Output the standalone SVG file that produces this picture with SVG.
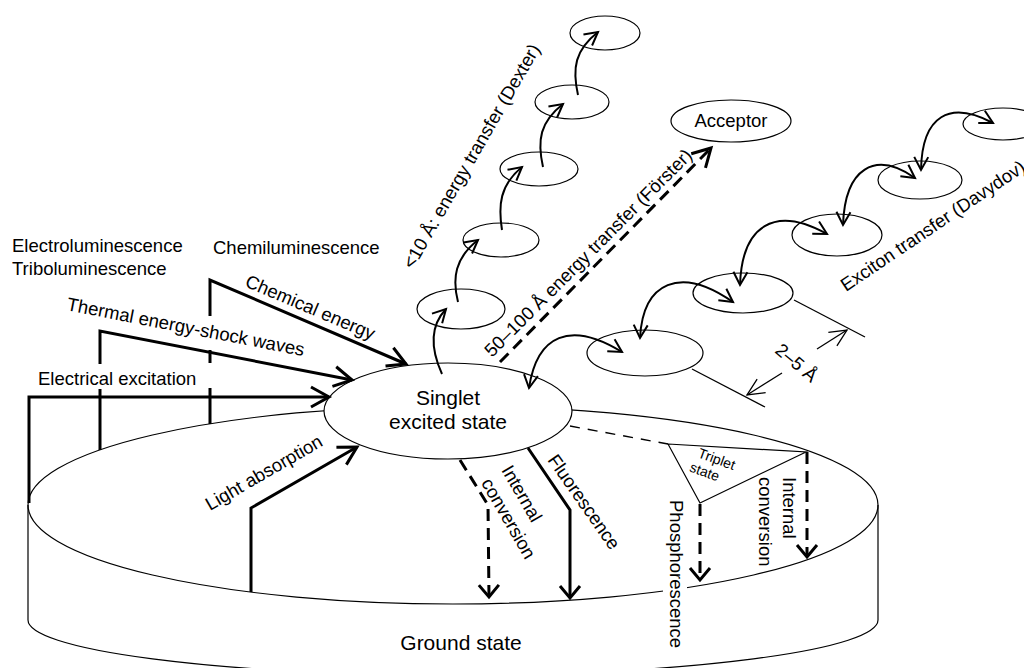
<svg xmlns="http://www.w3.org/2000/svg" width="1024" height="668" viewBox="0 0 1024 668">
<style>
text{font-family:"Liberation Sans",Arial,sans-serif;fill:#000}
.lbl{font-size:18.5px}
.big{font-size:21px;text-anchor:middle}
.sm{font-size:14px}
.thin{fill:none;stroke:#000;stroke-width:1.2}
.thick{fill:none;stroke:#000;stroke-width:3}
.dash{fill:none;stroke:#000;stroke-width:3;stroke-dasharray:12 7}
.tdash{fill:none;stroke:#000;stroke-width:1.3;stroke-dasharray:10 8}
.curve{fill:none;stroke:#000;stroke-width:2}
.dim{fill:none;stroke:#000;stroke-width:1.3}
</style>
<defs>
<marker id="big" markerUnits="userSpaceOnUse" orient="auto" refX="0" refY="0" markerWidth="40" markerHeight="40" viewBox="-20 -20 40 40" overflow="visible">
<path d="M-18,-10 L0,0 L-18,10" fill="none" stroke="#000" stroke-width="3"/>
</marker>
<marker id="short" markerUnits="userSpaceOnUse" orient="auto" refX="0" refY="0" markerWidth="40" markerHeight="40" viewBox="-20 -20 40 40" overflow="visible">
<path d="M-12,-10 L0,0 L-12,10" fill="none" stroke="#000" stroke-width="3"/>
</marker>
<marker id="sml" markerUnits="userSpaceOnUse" orient="auto-start-reverse" refX="0" refY="0" markerWidth="40" markerHeight="40" viewBox="-20 -20 40 40" overflow="visible">
<path d="M-13,-7 L0,0 L-13,7" fill="none" stroke="#000" stroke-width="2"/>
</marker>
<marker id="dimh" markerUnits="userSpaceOnUse" orient="auto" refX="0" refY="0" markerWidth="40" markerHeight="40" viewBox="-20 -20 40 40" overflow="visible">
<path d="M-17,-8 L0,0 L-17,8" fill="none" stroke="#000" stroke-width="1.3"/>
</marker>
</defs>

<g id="ground-state">
<ellipse cx="453" cy="505" rx="425" ry="99" class="thin"/>
<path d="M28,505 L28,620 A425,55 0 0 0 878,620 L878,505" class="thin"/>
<text x="461" y="650" class="big">Ground state</text>
</g>

<g id="singlet">
<ellipse cx="448" cy="411" rx="124" ry="48" fill="#fff" stroke="#000" stroke-width="1.2"/>
<text x="448" y="405" class="big">Singlet</text>
<text x="448" y="429" class="big">excited state</text>
</g>

<g id="triplet">
<path d="M668,444 L806,452 L700,503 Z" class="thin"/>
<text class="sm" transform="translate(697,457) rotate(20)"><tspan x="0" y="0">Triplet</tspan><tspan x="-3" dy="16">state</tspan></text>
</g>

<g id="acceptor">
<ellipse cx="731" cy="121" rx="60" ry="21" class="thin"/>
<text x="731" y="127" class="lbl" text-anchor="middle">Acceptor</text>
</g>

<g id="dexter-molecules">
<ellipse cx="461" cy="309" rx="44" ry="20" class="thin"/>
<ellipse cx="501" cy="240" rx="38" ry="17" class="thin"/>
<ellipse cx="539" cy="169" rx="39" ry="17" class="thin"/>
<ellipse cx="572" cy="102" rx="37" ry="17" class="thin"/>
<ellipse cx="605" cy="33" rx="35" ry="17" class="thin"/>
</g>

<g id="exciton-molecules">
<ellipse cx="645" cy="353" rx="58" ry="23" class="thin"/>
<ellipse cx="743" cy="293" rx="50" ry="20" class="thin"/>
<ellipse cx="837" cy="235" rx="45" ry="21" class="thin"/>
<ellipse cx="920" cy="180" rx="42" ry="19" class="thin"/>
<ellipse cx="1003" cy="124" rx="40" ry="16" class="thin"/>
</g>

<g id="connectors">
<!-- excitation inputs -->
<path d="M29,503 L29,397 L329,397" class="thick" marker-end="url(#big)"/>
<path d="M100,450 L100,389" class="thick"/>
<path d="M100,364 L100,331 L352,380" class="thick" marker-end="url(#big)"/>
<path d="M210,316 L210,280 L406,364" class="thick" marker-end="url(#big)"/>
<path d="M210,350 L210,363 M210,388 L210,424" class="thick"/>
<path d="M251,592 L251,508 L357,447" class="thick" marker-end="url(#big)"/>
<!-- outputs -->
<path d="M460,460 L488,505 L489,597" class="dash" marker-end="url(#short)"/>
<path d="M528,448 L570,510 L570,598" class="thick" marker-end="url(#short)"/>
<path d="M570,426 L668,444" class="tdash"/>
<path d="M700,504 L700,580" class="dash" marker-end="url(#short)"/>
<path d="M807,452 L807,557" class="dash" marker-end="url(#short)"/>
<!-- Forster -->
<path d="M500,362 L711,148" class="dash" marker-end="url(#big)"/>
<!-- Dexter hops -->
<path d="M442,374 C432,352 428,328 446,309" class="curve" marker-end="url(#sml)"/>
<path d="M458,302 C452,278 455,258 478,240" class="curve" marker-end="url(#sml)"/>
<path d="M502,230 C498,205 500,185 522,167" class="curve" marker-end="url(#sml)"/>
<path d="M543,167 C537,140 540,122 563,104" class="curve" marker-end="url(#sml)"/>
<path d="M578,95 C572,68 575,50 598,32" class="curve" marker-end="url(#sml)"/>
<!-- exciton hops -->
<path d="M529,388 C537,335 570,320 622,352" class="curve" marker-start="url(#sml)" marker-end="url(#sml)"/>
<path d="M640,338 C643,282 680,265 733,302" class="curve" marker-start="url(#sml)" marker-end="url(#sml)"/>
<path d="M740,285 C742,225 775,205 827,234" class="curve" marker-start="url(#sml)" marker-end="url(#sml)"/>
<path d="M843,225 C845,168 875,150 915,178" class="curve" marker-start="url(#sml)" marker-end="url(#sml)"/>
<path d="M921,170 C922,115 950,100 993,123" class="curve" marker-start="url(#sml)" marker-end="url(#sml)"/>
<!-- dimension -->
<path d="M692,369 L765,407" class="dim"/>
<path d="M794,300 L865,337" class="dim"/>
<path d="M782,373 L747,395" class="dim" marker-end="url(#dimh)"/>
<path d="M817,349 L847,330" class="dim" marker-end="url(#dimh)"/>
</g>

<g id="labels">
<rect x="663" y="497" width="24" height="152" fill="#fff"/>
<text class="lbl" x="12" y="252">Electroluminescence</text>
<text class="lbl" x="12" y="275">Triboluminescence</text>
<text class="lbl" x="213" y="254">Chemiluminescence</text>
<text class="lbl" x="38" y="385">Electrical excitation</text>
<text class="lbl" transform="translate(66,310) rotate(11)">Thermal energy-shock waves</text>
<text class="lbl" transform="translate(244,286) rotate(23)">Chemical energy</text>
<text class="lbl" transform="translate(210,511) rotate(-30)">Light absorption</text>
<text class="lbl" transform="translate(501,470) rotate(60)"><tspan x="0" y="0">Internal</tspan><tspan x="1" dy="24">conversion</tspan></text>
<text class="lbl" transform="translate(547,460) rotate(55)">Fluorescence</text>
<text class="lbl" transform="translate(670,500) rotate(90)">Phosphorescence</text>
<text class="lbl" transform="translate(783,477) rotate(90)"><tspan x="0" y="0">Internal</tspan><tspan x="0" dy="24">conversion</tspan></text>
<text class="lbl" transform="translate(413,270) rotate(-60)">&lt;10 Å: energy transfer (Dexter)</text>
<text class="lbl" transform="translate(492,358) rotate(-45)">50–100 Å energy transfer (Förster)</text>
<text class="lbl" transform="translate(846,292) rotate(-34)">Exciton transfer (Davydov)</text>
<text class="lbl" transform="translate(774,352) rotate(40)">2–5 Å</text>
</g>
</svg>
